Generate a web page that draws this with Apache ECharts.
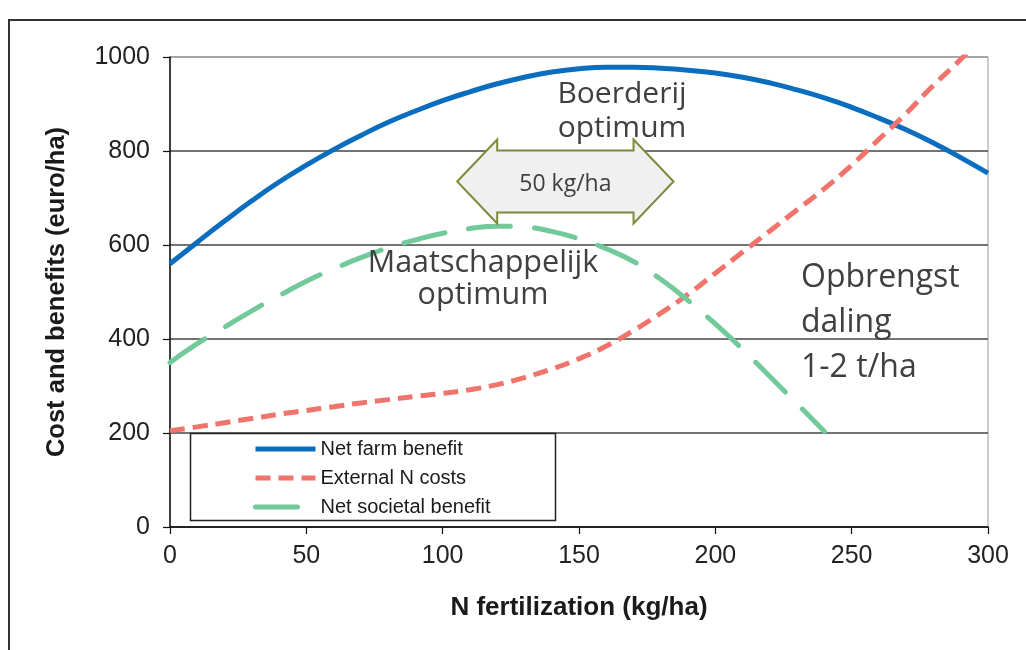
<!DOCTYPE html>
<html>
<head>
<meta charset="utf-8">
<script src="https://cdn.jsdelivr.net/npm/echarts@6/dist/echarts.min.js"></script>
<style>
  html, body { margin: 0; padding: 0; background: #ffffff; }
  #chart { width: 1026px; height: 650px; }
</style>
</head>
<body>
<div id="chart"></div>
<script>
// N fertilization rates (kg/ha)
const nRates = [0, 10, 20, 30, 40, 50, 60, 70, 80, 90, 100, 110, 120, 130, 140, 150,
                160, 170, 180, 190, 200, 210, 220, 230, 240, 250, 260, 270, 280, 290, 300];

// Net farm benefit (euro/ha)
const netFarmBenefit = [560, 606, 651, 694, 734, 770, 803, 833, 861, 885, 907, 926, 943, 957, 968, 975,
                        978, 978, 976, 972, 966, 957, 945, 930, 913, 893, 870, 845, 817, 786, 753];

// External N costs (euro/ha)
const externalNCosts = [205, 213, 222, 231, 240, 248, 256, 264, 271, 278, 284, 292, 303, 318, 336, 358,
                        385, 418, 455, 495, 540, 585, 630, 675, 720, 770, 825, 880, 940, 995, 1055];

// Net societal benefit (euro/ha)
const netSocietalBenefit = [350, 390, 425, 460, 492, 523, 549, 573, 594, 611, 625, 635, 640, 638, 629, 613,
                            592, 565, 527, 482, 432, 378, 320, 262, 203, null, null, null, null, null, null];

const seriesNames = ['Net farm benefit', 'External N costs', 'Net societal benefit'];

// Optimum N rates (kg/ha): society vs. farm
const societalOptimum = 120;
const farmOptimum = 170;
const optimumGapLabel = '50 kg/ha';

const xTicks = { min: 0, max: 300, step: 50 };
const yTicks = { min: 0, max: 1000, step: 200 };

function pairs(values) {
  return nRates.map((x, i) => [x, values[i]]).filter(p => p[1] !== null);
}

const chart = echarts.init(document.getElementById('chart'), null, { renderer: 'canvas' });

const axisFont = 'Liberation Sans, Arial, sans-serif';
const noteFont = 'Open Sans, Noto Sans, sans-serif';
const noteColor = '#404040';

chart.setOption({
  animation: false,
  backgroundColor: '#ffffff',
  grid: {
    left: 170, right: 38, top: 57, bottom: 123,
    show: true, borderColor: '#9a9a9a', borderWidth: 1, backgroundColor: 'transparent'
  },
  legend: {
    data: seriesNames,
    orient: 'vertical',
    left: 253, top: 439,
    itemWidth: 60, itemHeight: 14, itemGap: 9,
    padding: 0,
    itemStyle: { opacity: 0 },
    lineStyle: { width: 5 },
    textStyle: { fontSize: 20, fontFamily: axisFont, color: '#1a1a1a' },
    z: 6
  },
  xAxis: {
    type: 'value',
    min: xTicks.min, max: xTicks.max, interval: xTicks.step,
    name: 'N fertilization (kg/ha)',
    nameLocation: 'middle',
    nameGap: 68,
    nameTextStyle: { fontSize: 26, fontWeight: 'bold', fontFamily: axisFont, color: '#1a1a1a' },
    axisLine: { show: true, onZero: false, lineStyle: { color: '#111', width: 1.5 } },
    axisTick: { show: true, inside: false, length: 7, lineStyle: { color: '#111', width: 1.2 } },
    axisLabel: { fontSize: 25, fontFamily: axisFont, color: '#222', margin: 17 },
    splitLine: { show: false }
  },
  yAxis: {
    type: 'value',
    min: yTicks.min, max: yTicks.max, interval: yTicks.step,
    name: 'Cost and benefits (euro/ha)',
    nameLocation: 'middle',
    nameGap: 100,
    nameTextStyle: { fontSize: 25.5, fontWeight: 'bold', fontFamily: axisFont, color: '#1a1a1a' },
    axisLine: { show: true, onZero: false, lineStyle: { color: '#111', width: 1.5 } },
    axisTick: { show: true, inside: false, length: 7, lineStyle: { color: '#111', width: 1.2 } },
    axisLabel: { fontSize: 25, fontFamily: axisFont, color: '#222', margin: 20,
                 formatter: v => String(v) },
    splitLine: {
      show: true,
      lineStyle: { color: ['#444', '#444', '#444', '#444', '#444', '#9a9a9a'], width: 1.5 }
    }
  },
  series: [
    {
      name: seriesNames[0], type: 'line', data: pairs(netFarmBenefit),
      smooth: true, symbol: 'none', z: 3,
      lineStyle: { color: '#0b6dbd', width: 5 },
      itemStyle: { color: '#0b6dbd' }
    },
    {
      name: seriesNames[1], type: 'line', data: pairs(externalNCosts),
      smooth: true, symbol: 'none', z: 3, clip: true,
      lineStyle: { color: '#f0736c', width: 5, type: [15, 8], cap: 'butt' },
      itemStyle: { color: '#f0736c' }
    },
    {
      name: seriesNames[2], type: 'line', data: pairs(netSocietalBenefit),
      smooth: true, symbol: 'none', z: 3,
      lineStyle: { color: '#72c99a', width: 5, type: [42, 24], cap: 'round' },
      itemStyle: { color: '#72c99a' }
    }
  ]
});

// Double arrow spanning the gap between the two optima, plus notes
const arrowLevel = 735;
const pL = chart.convertToPixel({ gridIndex: 0 }, [societalOptimum, arrowLevel]);
const pR = chart.convertToPixel({ gridIndex: 0 }, [farmOptimum, arrowLevel]);
const yc = pL[1], xL = pL[0], xR = pR[0];
const head = 40, headHalf = 42, shaftHalf = 31;

chart.setOption({
  graphic: [
    {
      type: 'rect', z: 0, silent: true,
      shape: { x: 9, y: 20, width: 1100, height: 700 },
      style: { fill: 'none', stroke: '#333', lineWidth: 2 }
    },
    {
      type: 'rect', z: 5, silent: true,
      shape: { x: 190.5, y: 433.5, width: 365, height: 87 },
      style: { fill: '#ffffff', stroke: '#222', lineWidth: 1.5 }
    },
    {
      type: 'polygon', z: 10, silent: true,
      shape: {
        points: [
          [xL - head, yc], [xL, yc - headHalf], [xL, yc - shaftHalf],
          [xR, yc - shaftHalf], [xR, yc - headHalf], [xR + head, yc],
          [xR, yc + headHalf], [xR, yc + shaftHalf], [xL, yc + shaftHalf], [xL, yc + headHalf]
        ]
      },
      style: { fill: '#f0f0f0', stroke: '#7d8a3c', lineWidth: 2 }
    },
    {
      type: 'text', z: 11, silent: true,
      x: (xL + xR) / 2, y: yc + 3,
      style: { text: optimumGapLabel, align: 'center', verticalAlign: 'middle',
               fontSize: 23, fontFamily: noteFont, fill: noteColor }
    },
    {
      type: 'text', z: 11, silent: true,
      x: 622, y: 111,
      style: { text: 'Boerderij\noptimum', align: 'center', verticalAlign: 'middle',
               fontSize: 30, lineHeight: 34, fontFamily: noteFont, fill: noteColor }
    },
    {
      type: 'text', z: 11, silent: true,
      x: 483, y: 279,
      style: { text: 'Maatschappelijk\noptimum', align: 'center', verticalAlign: 'middle',
               fontSize: 30.5, lineHeight: 32, fontFamily: noteFont, fill: noteColor }
    },
    {
      type: 'text', z: 11, silent: true,
      x: 801, y: 323,
      style: { text: 'Opbrengst\ndaling\n1-2 t/ha', align: 'left', verticalAlign: 'middle',
               fontSize: 32, lineHeight: 45, fontFamily: noteFont, fill: noteColor }
    }
  ]
});
</script>
</body>
</html>
